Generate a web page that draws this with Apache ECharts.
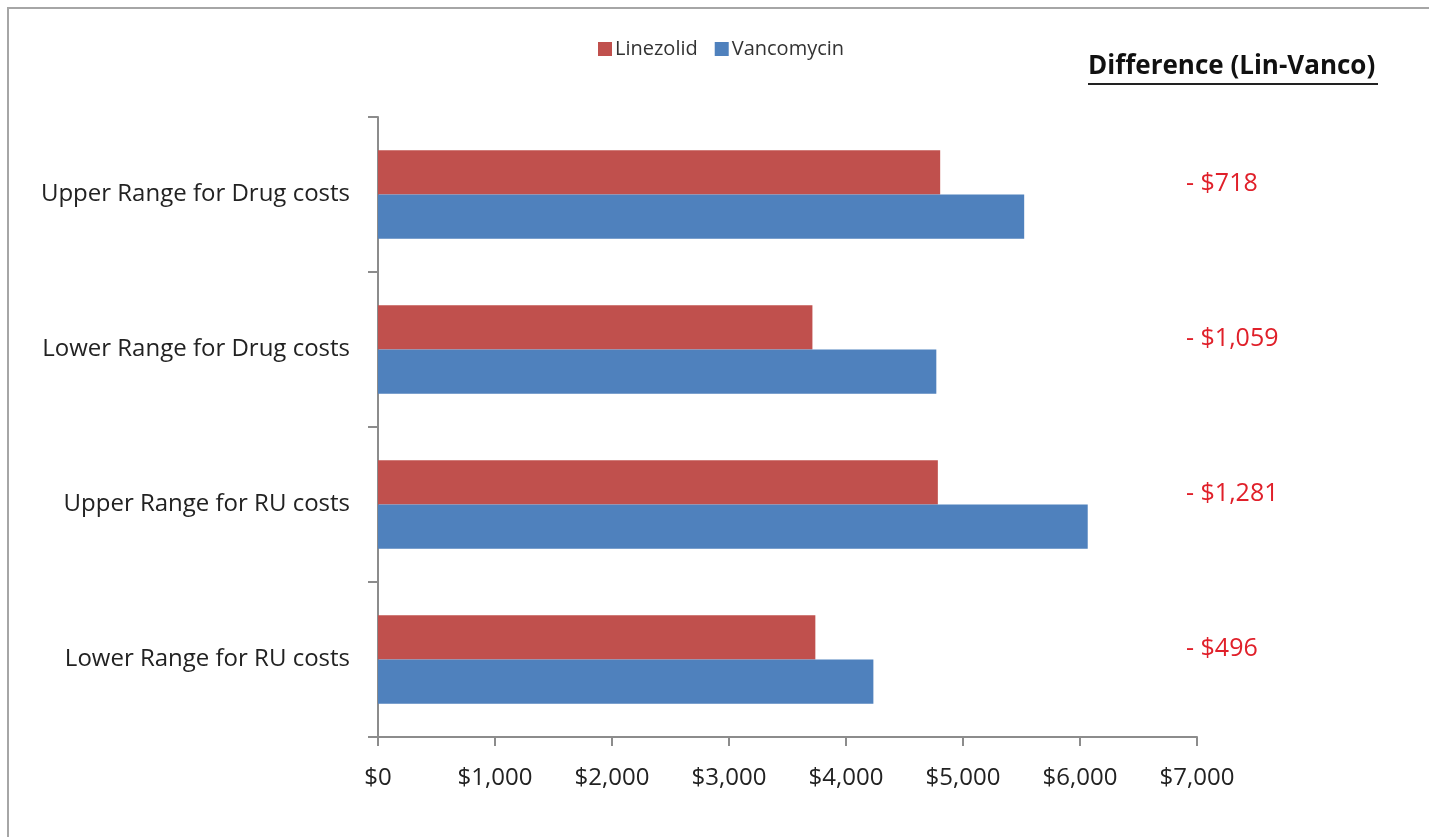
<!DOCTYPE html>
<html>
<head>
<meta charset="utf-8">
<script src="https://cdn.jsdelivr.net/npm/echarts@6/dist/echarts.min.js"></script>
<style>html,body{margin:0;padding:0;background:#fff;}#main{width:1429px;height:837px;}</style>
</head>
<body>
<div id="main"></div>
<script>
var categories = ['Upper Range for Drug costs', 'Lower Range for Drug costs', 'Upper Range for RU costs', 'Lower Range for RU costs'];
var linezolid = [4805, 3713, 4785, 3738];
var vancomycin = [5523, 4772, 6066, 4234];
var differenceLabels = ['- $718', '- $1,059', '- $1,281', '- $496'];
var xTicks = [0, 1000, 2000, 3000, 4000, 5000, 6000, 7000];

var FONT = '"Open Sans", Lato, sans-serif';
var chart = echarts.init(document.getElementById('main'), null, {renderer: 'canvas'});
function fmt(v) { return '$' + v.toLocaleString('en-US'); }

var option = {
  backgroundColor: '#fff',
  animation: false,
  legend: {
    data: ['Linezolid', 'Vancomycin'],
    left: 593, top: 34,
    itemWidth: 14, itemHeight: 14, itemGap: 17,
    icon: 'rect',
    textStyle: {fontFamily: FONT, fontSize: 20, color: '#333', padding: [0, 0, 0, -2]}
  },
  grid: {left: 378, right: 232, top: 117, bottom: 100, containLabel: false},
  xAxis: {
    type: 'value', min: xTicks[0], max: xTicks[xTicks.length - 1], interval: 1000,
    axisLine: {show: true, lineStyle: {color: '#8c8c8c', width: 2}},
    axisTick: {show: true, length: 9, lineStyle: {color: '#8c8c8c', width: 2}},
    splitLine: {show: false},
    axisLabel: {fontFamily: FONT, fontSize: 24, color: '#222', margin: 29, formatter: fmt}
  },
  yAxis: {
    type: 'category', data: categories, inverse: true,
    axisLine: {show: true, lineStyle: {color: '#8c8c8c', width: 2}},
    axisTick: {show: true, length: 10, lineStyle: {color: '#8c8c8c', width: 2}},
    axisLabel: {fontFamily: FONT, fontSize: 24, color: '#222', margin: 28}
  },
  series: [
    {name: 'Linezolid', type: 'bar', data: linezolid, barGap: '0%', barCategoryGap: '43%',
      itemStyle: {color: '#C0504D'}},
    {name: 'Vancomycin', type: 'bar', data: vancomycin, barGap: '0%', barCategoryGap: '43%',
      itemStyle: {color: '#4F81BD'}}
  ]
};
chart.setOption(option);

var graphics = [
  {type: 'polyline', shape: {points: [[8, 900], [8, 8], [1500, 8]]},
    style: {stroke: '#a6a6a6', lineWidth: 2, fill: null}, silent: true},
  {type: 'text', left: 1088, top: 54,
    style: {text: 'Difference (Lin-Vanco)', fontFamily: FONT, fontSize: 26, fontWeight: 'bold', fill: '#111'}},
  {type: 'rect', shape: {x: 1088, y: 83, width: 290, height: 2}, style: {fill: '#222'}}
];
for (var i = 0; i < categories.length; i++) {
  var y = chart.convertToPixel({yAxisIndex: 0}, categories[i]);
  graphics.push({type: 'text', x: 1186, y: y - 11,
    style: {text: differenceLabels[i], fontFamily: FONT, fontSize: 25, fill: '#e0202a', verticalAlign: 'middle', align: 'left'}});
}
chart.setOption({graphic: graphics});
</script>
</body>
</html>
